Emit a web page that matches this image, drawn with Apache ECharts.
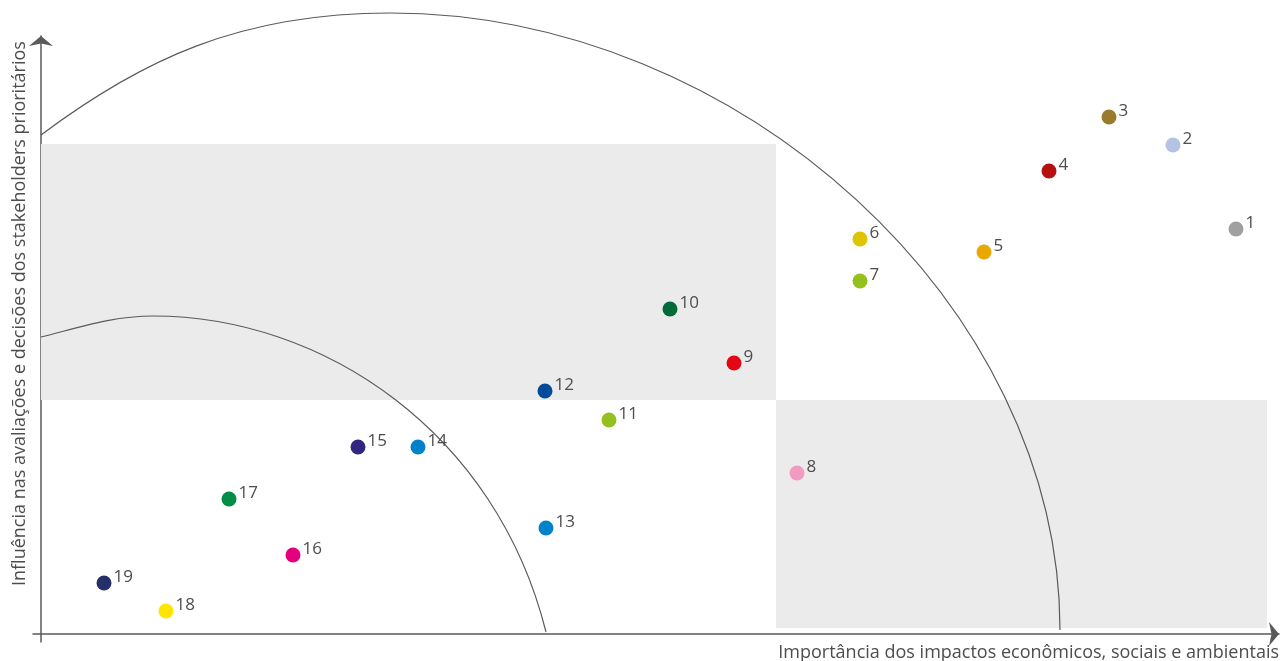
<!DOCTYPE html>
<html>
<head>
<meta charset="utf-8">
<style>
  html, body { margin: 0; padding: 0; background: #fff; }
  #chart { width: 1284px; height: 661px; }
</style>
<script src="https://cdn.jsdelivr.net/npm/echarts@6/dist/echarts.min.js"></script>
</head>
<body>
<div id="chart"></div>
<script>
// materiality matrix: ids, impact (x) and influence (y)
const ids = ['1', '2', '3', '4', '5', '6', '7', '8', '9', '10', '11', '12', '13', '14', '15', '16', '17', '18', '19'];
const impact = [119.5, 113.2, 106.8, 100.8, 94.3, 81.9, 81.9, 75.6, 69.3, 62.9, 56.8, 50.4, 50.5, 37.7, 31.7, 25.2, 18.8, 12.5, 6.3];
const influence = [40.5, 48.9, 51.7, 46.3, 38.2, 39.5, 35.3, 16.1, 27.1, 32.5, 21.4, 24.3, 10.6, 18.7, 18.7, 7.9, 13.5, 2.3, 5.1];
const pointColors = [
  '#a0a0a0', '#b4c2e4', '#9a7b2b', '#b50f10', '#e8a800', '#dfc400', '#95c11f',
  '#f29bc1', '#e30613', '#006a38', '#95c11f', '#004c9a', '#0082ca', '#0082ca',
  '#312783', '#e5007e', '#008d46', '#ffe500', '#25306b',
];

// shaded zones [x0, y0, x1, y1]
const zones = [
  [0, 23.4, 73.5, 49.0],
  [73.5, 0.6, 122.6, 23.4],
];

// arcs as cubic segments [start, control 1, control 2, end]
const outerArc = [
  [0, 49.9, 10.0, 57.4, 19.9, 62.1, 34.9, 62.1],
  [34.9, 62.1, 69.9, 62.1, 101.9, 32.9, 101.9, 0.4],
];
const innerArc = [
  [0, 29.7, 4.0, 30.7, 7.2, 31.8, 11.2, 31.8],
  [11.2, 31.8, 28.2, 31.8, 45.5, 20.2, 50.5, 0.2],
];

const xTitle = 'Importância dos impactos econômicos, sociais e ambientais';
const yTitle = 'Influência nas avaliações e decisões dos stakeholders prioritários';

const chart = echarts.init(document.getElementById('chart'));
const font = "'Open Sans', sans-serif";
const textColor = '#4d4d4d';
const axisStyle = {
  show: true,
  onZero: true,
  symbol: ['none', 'arrow'],
  symbolSize: [18, 10],
  lineStyle: { color: '#5a5a5a', width: 1.5 },
};

const arcSeries = (data) => ({
  type: 'custom',
  data,
  clip: false,
  silent: true,
  z: 2,
  renderItem(params, api) {
    const p = [0, 1, 2, 3].map((k) => api.coord([api.value(k * 2), api.value(k * 2 + 1)]));
    return {
      type: 'bezierCurve',
      shape: {
        x1: p[0][0], y1: p[0][1],
        cpx1: p[1][0], cpy1: p[1][1],
        cpx2: p[2][0], cpy2: p[2][1],
        x2: p[3][0], y2: p[3][1],
      },
      style: { fill: null, stroke: '#5a5a5a', lineWidth: 1.2 },
    };
  },
});

chart.setOption({
  animation: false,
  grid: { left: 33, right: 5, top: 36, bottom: 19, outerBoundsMode: 'none' },
  xAxis: {
    type: 'value', min: -0.8, max: 123.8,
    axisLine: axisStyle,
    axisTick: { show: false }, axisLabel: { show: false }, splitLine: { show: false },
  },
  yAxis: {
    type: 'value', min: -0.8, max: 59.8,
    axisLine: axisStyle,
    axisTick: { show: false }, axisLabel: { show: false }, splitLine: { show: false },
  },
  graphic: [
    {
      type: 'text', right: 5, bottom: -1,
      style: { text: xTitle, fill: textColor, font: '18px ' + font },
    },
    {
      type: 'text', x: 20, y: 586, rotation: Math.PI / 2,
      style: { text: yTitle, fill: textColor, font: '18px ' + font, textAlign: 'left', textVerticalAlign: 'middle' },
    },
  ],
  series: [
    {
      type: 'custom',
      silent: true,
      z: 1,
      data: zones,
      renderItem(params, api) {
        const p0 = api.coord([api.value(0), api.value(3)]);
        const p1 = api.coord([api.value(2), api.value(1)]);
        return {
          type: 'rect',
          shape: { x: p0[0], y: p0[1], width: p1[0] - p0[0], height: p1[1] - p0[1] },
          style: { fill: '#ebebeb' },
        };
      },
    },
    arcSeries(outerArc),
    arcSeries(innerArc),
    {
      type: 'scatter',
      z: 3,
      symbolSize: 15,
      itemStyle: { opacity: 1 },
      data: ids.map((id, i) => ({
        name: id,
        value: [impact[i], influence[i]],
        itemStyle: { color: pointColors[i], opacity: 1 },
      })),
      label: {
        show: true,
        position: 'right',
        distance: 2,
        offset: [0, -6],
        formatter: '{b}',
        color: textColor,
        fontSize: 17,
        fontFamily: font,
      },
    },
  ],
});
</script>
</body>
</html>
